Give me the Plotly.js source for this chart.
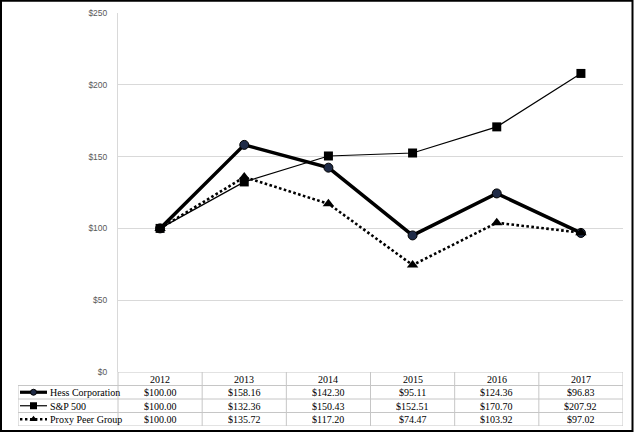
<!DOCTYPE html>
<html>
<head>
<meta charset="utf-8">
<script src="https://cdn.plot.ly/plotly-3.0.1.min.js"></script>
<style>html,body{margin:0;padding:0;background:#fff;}#chart{width:635px;height:433px;}</style>
</head>
<body>
<div id="chart"></div>
<script>
// ---- data ----
var years = ["2012", "2013", "2014", "2015", "2016", "2017"];
var seriesNames = ["Hess Corporation", "S&P 500", "Proxy Peer Group"];
var hess = [100.00, 158.16, 142.30, 95.11, 124.36, 96.83];
var sp500 = [100.00, 132.36, 150.43, 152.51, 170.70, 207.92];
var peer = [100.00, 135.72, 117.20, 74.47, 103.92, 97.02];
var yTicks = [0, 50, 100, 150, 200, 250];

// ---- geometry (layout only) ----
var W = 635, H = 433;
var mL = 18, mR = 12, mT = 13, mB = 7;
var pw = W - mL - mR, ph = H - mT - mB;
var legendColPx = 100;
var unitPx = (pw - legendColPx) / 6;
var x2min = -0.5 - legendColPx / unitPx;
var plotBottomPx = 372;
var tableFrac = (H - mB - plotBottomPx) / ph;

var gridCol = "#d9d9d9";
var tableCol = "#c6c6c6";
var serif = "Liberation Serif, Times New Roman, serif";

var styles = [
  {line: {color: "#000", width: 3.5}, marker: {symbol: "circle", size: 9, color: "#1f2b47", line: {color: "#000", width: 1}}},
  {line: {color: "#000", width: 1.2}, marker: {symbol: "square", size: 9, color: "#000"}},
  {line: {color: "#000", width: 2.6, dash: "2.6px,2.4px"}, marker: {symbol: "triangle-up", size: 10, color: "#000"}}
];
var values = [hess, sp500, peer];

var traces = [];
// draw order: Hess, Proxy, S&P
[0, 2, 1].forEach(function (i) {
  traces.push({
    type: "scatter", mode: "lines+markers",
    x: years.map(function (y, k) { return k; }), y: values[i],
    name: seriesNames[i], xaxis: "x", yaxis: "y",
    line: styles[i].line, marker: styles[i].marker,
    cliponaxis: false, hoverinfo: "skip", showlegend: false
  });
});

// legend samples in the table's first column
var sampleX0 = x2min + 2 / unitPx, sampleX1 = x2min + 29 / unitPx;
var legendStyles = [
  {line: {color: "#000", width: 3.2}, marker: {symbol: "circle", size: 6, color: "#1f2b47", line: {color: "#000", width: 1}}},
  {line: {color: "#000", width: 1.2}, marker: {symbol: "square", size: 7, color: "#000"}},
  {line: {color: "#000", width: 2.4, dash: "2.4px,2.6px"}, marker: {symbol: "triangle-up", size: 7, color: "#000"}}
];
seriesNames.forEach(function (n, i) {
  traces.push({
    type: "scatter", mode: "lines", xaxis: "x2", yaxis: "y2",
    x: [sampleX0, sampleX1], y: [i + 1.5, i + 1.5],
    line: legendStyles[i].line, hoverinfo: "skip", showlegend: false
  });
  traces.push({
    type: "scatter", mode: "markers", xaxis: "x2", yaxis: "y2",
    x: [(sampleX0 + sampleX1) / 2], y: [i + 1.5],
    marker: legendStyles[i].marker, hoverinfo: "skip", showlegend: false
  });
});

var shapes = [], annotations = [];
// table grid
for (var r = 0; r <= 4; r++) {
  shapes.push({type: "line", xref: "x2", yref: "y2", x0: r === 0 ? -0.5 : x2min, x1: 5.5, y0: r, y1: r,
    line: {color: tableCol, width: 1}, layer: "below"});
}
for (var c = 0; c <= 6; c++) {
  shapes.push({type: "line", xref: "x2", yref: "y2", x0: c - 0.5, x1: c - 0.5, y0: 0, y1: 4,
    line: {color: tableCol, width: 1}, layer: "below"});
}
shapes.push({type: "line", xref: "x2", yref: "y2", x0: x2min, x1: x2min, y0: 1, y1: 4,
  line: {color: tableCol, width: 1}, layer: "below"});
// outer frame
shapes.push({type: "rect", xref: "paper", yref: "paper",
  x0: (1 - mL) / pw, x1: (632.5 - mL) / pw, y0: (H - mB - 431) / ph, y1: (H - mB - 0.8) / ph,
  line: {color: "#000", width: 2}, fillcolor: "rgba(0,0,0,0)"});

// header row
years.forEach(function (y, k) {
  annotations.push({xref: "x2", yref: "y2", x: k, y: 0.55, text: y, showarrow: false,
    font: {family: serif, size: 10, color: "#000"}});
});
// value rows
values.forEach(function (arr, i) {
  arr.forEach(function (v, k) {
    annotations.push({xref: "x2", yref: "y2", x: k, y: i + 1.55, text: "$" + v.toFixed(2), showarrow: false,
      font: {family: serif, size: 10, color: "#000"}});
  });
  annotations.push({xref: "x2", yref: "y2", x: sampleX1 + 0.5 / unitPx, y: i + 1.55, xanchor: "left",
    text: seriesNames[i].replace("&", "&amp;"), showarrow: false,
    font: {family: serif, size: 10, color: "#000"}});
});

var layout = {
  width: W, height: H,
  margin: {l: mL, r: mR, t: mT, b: mB, pad: 0},
  paper_bgcolor: "#fff", plot_bgcolor: "#fff",
  showlegend: false,
  xaxis: {domain: [legendColPx / pw, 1], range: [-0.5, 5.5], showgrid: false, zeroline: false,
    showticklabels: false, ticks: "", showline: false, fixedrange: true},
  yaxis: {domain: [tableFrac, 1], range: [0, 250], tickvals: yTicks, ticktext: yTicks.map(function (v) { return "$" + v; }),
    showgrid: true, gridcolor: gridCol, gridwidth: 1, zeroline: false,
    showline: true, linecolor: gridCol, linewidth: 1, ticks: "", ticklabelstandoff: 8,
    tickfont: {family: "Liberation Sans, Arial, sans-serif", size: 8.5, color: "#595959"}, fixedrange: true},
  xaxis2: {domain: [0, 1], range: [x2min, 5.5], anchor: "y2", visible: false, fixedrange: true},
  yaxis2: {domain: [0, tableFrac], range: [4, 0], anchor: "x2", visible: false, fixedrange: true},
  shapes: shapes,
  annotations: annotations
};

Plotly.newPlot("chart", traces, layout, {displayModeBar: false, staticPlot: true});
</script>
</body>
</html>
